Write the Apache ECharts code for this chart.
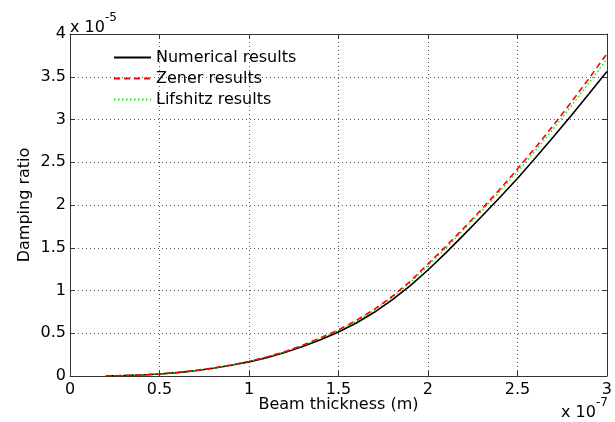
<!DOCTYPE html>
<html>
<head>
<meta charset="utf-8">
<style>
  html, body { margin: 0; padding: 0; background: #fff; }
  #chart { width: 615px; height: 422px; }
</style>
<script src="https://cdn.jsdelivr.net/npm/echarts@6/dist/echarts.min.js"></script>
</head>
<body>
<div id="chart"></div>
<script>
// Beam thickness, in units of 1e-7 m
const thickness = [0.2, 0.3, 0.4, 0.5, 0.6, 0.7, 0.8, 0.9, 1.0, 1.1, 1.2, 1.3, 1.4, 1.5,
                   1.6, 1.7, 1.8, 1.9, 2.0, 2.1, 2.2, 2.3, 2.4, 2.5, 2.6, 2.7, 2.8, 2.9, 3.0];

// Damping ratio, in units of 1e-5
const numerical = [0.0015, 0.005, 0.012, 0.023, 0.04, 0.062, 0.09, 0.125, 0.165, 0.215, 0.275, 0.345, 0.425, 0.515,
                   0.62, 0.745, 0.89, 1.055, 1.24, 1.44, 1.65, 1.865, 2.085, 2.31, 2.55, 2.795, 3.045, 3.30, 3.56];
const zener     = [0.0015, 0.005, 0.012, 0.024, 0.041, 0.064, 0.093, 0.129, 0.17, 0.222, 0.285, 0.36, 0.445, 0.54,
                   0.65, 0.78, 0.93, 1.105, 1.31, 1.515, 1.73, 1.95, 2.18, 2.42, 2.67, 2.93, 3.20, 3.48, 3.77];
const lifshitz  = [0.0015, 0.005, 0.012, 0.024, 0.041, 0.063, 0.092, 0.128, 0.169, 0.22, 0.282, 0.356, 0.44, 0.533,
                   0.64, 0.77, 0.92, 1.09, 1.29, 1.495, 1.71, 1.93, 2.155, 2.39, 2.635, 2.89, 3.155, 3.43, 3.71];

const xTicks = { min: 0, max: 3, interval: 0.5 };
const yTicks = { min: 0, max: 4, interval: 0.5 };

const FONT = 'DejaVu Sans';

const pairs = ys => thickness.map((x, i) => [x, ys[i]]);

const chart = echarts.init(document.getElementById('chart'), null, { renderer: 'canvas' });

const baseAxis = {
  axisLine: { show: true, onZero: false, lineStyle: { color: '#333', width: 1 } },
  axisTick: { show: true, inside: true, length: 5, lineStyle: { color: '#333' } },
  axisLabel: { color: '#000', fontFamily: FONT, fontSize: 16 },
  splitLine: { show: false }
};

chart.setOption({
  backgroundColor: '#fff',
  animation: false,
  grid: { left: 70, right: 8, top: 34, bottom: 46, containLabel: false },
  legend: {
    orient: 'vertical',
    left: 113,
    top: 49,
    padding: 0,
    itemWidth: 37,
    itemHeight: 14,
    itemGap: 4,
    itemStyle: { opacity: 0 },
    textStyle: { color: '#000', fontFamily: FONT, fontSize: 16, lineHeight: 17 },
    data: ['Numerical results', 'Zener results', 'Lifshitz results']
  },
  xAxis: [
    Object.assign({}, baseAxis, {
      type: 'value', position: 'bottom',
      min: xTicks.min, max: xTicks.max, interval: xTicks.interval,
      name: 'Beam thickness (m)', nameLocation: 'middle', nameGap: 21, nameMoveOverlap: false,
      nameTextStyle: { color: '#000', fontFamily: FONT, fontSize: 16 },
      axisLabel: { color: '#000', fontFamily: FONT, fontSize: 16, margin: 6 },
      splitLine: { show: true, lineStyle: { color: '#555', type: [1, 3], width: 1 } }
    }),
    Object.assign({}, baseAxis, {
      type: 'value', position: 'top',
      min: xTicks.min, max: xTicks.max, interval: xTicks.interval,
      axisLabel: { show: false }
    })
  ],
  yAxis: [
    Object.assign({}, baseAxis, {
      type: 'value', position: 'left',
      min: yTicks.min, max: yTicks.max, interval: yTicks.interval,
      name: 'Damping ratio', nameLocation: 'middle', nameGap: 37, nameRotate: 90, nameMoveOverlap: false,
      nameTextStyle: { color: '#000', fontFamily: FONT, fontSize: 16 },
      axisLabel: { color: '#000', fontFamily: FONT, fontSize: 16, margin: 4 },
      splitLine: { show: true, lineStyle: { color: '#555', type: [1, 3], width: 1 } }
    }),
    Object.assign({}, baseAxis, {
      type: 'value', position: 'right',
      min: yTicks.min, max: yTicks.max, interval: yTicks.interval,
      axisLabel: { show: false }
    })
  ],
  graphic: [
    {
      type: 'text', left: 70, top: 12,
      style: {
        text: '{b|x 10}{s|-5}',
        rich: {
          b: { fontFamily: FONT, fontSize: 16, fill: '#000', padding: [8, 0, 0, 0] },
          s: { fontFamily: FONT, fontSize: 12, fill: '#000', verticalAlign: 'top' }
        }
      }
    },
    {
      type: 'text', left: 561, top: 397,
      style: {
        text: '{b|x 10}{s|-7}',
        rich: {
          b: { fontFamily: FONT, fontSize: 16, fill: '#000', padding: [8, 0, 0, 0] },
          s: { fontFamily: FONT, fontSize: 12, fill: '#000', verticalAlign: 'top' }
        }
      }
    }
  ],
  series: [
    {
      name: 'Numerical results', type: 'line', showSymbol: false, symbol: 'none',
      data: pairs(numerical),
      lineStyle: { color: '#000', width: 1.6 }, itemStyle: { color: '#000' }, z: 2
    },
    {
      name: 'Zener results', type: 'line', showSymbol: false, symbol: 'none',
      data: pairs(zener),
      lineStyle: { color: '#ff0000', width: 1.6, type: [6, 4] }, itemStyle: { color: '#ff0000' }, z: 4
    },
    {
      name: 'Lifshitz results', type: 'line', showSymbol: false, symbol: 'none',
      data: pairs(lifshitz),
      lineStyle: { color: '#00ee00', width: 1.4, type: [1.5, 2.5] }, itemStyle: { color: '#00ee00' }, z: 3
    }
  ]
});
</script>
</body>
</html>
